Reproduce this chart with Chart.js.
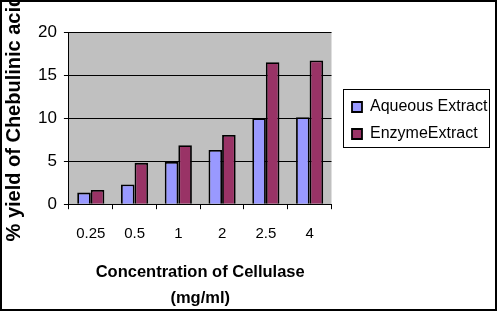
<!DOCTYPE html>
<html>
<head>
<meta charset="utf-8">
<script src="https://cdn.jsdelivr.net/npm/chart.js@4"></script>
<style>
  html, body { margin: 0; padding: 0; background: #fff; }
  #wrap { width: 500px; height: 316px; }
</style>
</head>
<body>
<div id="wrap"><canvas id="chart" width="500" height="316"></canvas></div>
<script>
const concentrations = ["0.25", "0.5", "1", "2", "2.5", "4"];
const aqueousYield = [1.35, 2.3, 4.9, 6.3, 10.0, 10.1];
const enzymeYield = [1.65, 4.8, 6.85, 8.05, 16.5, 16.7];
const seriesNames = ["Aqueous Extract", "EnzymeExtract"];

const FONT = "'Liberation Sans', Arial, sans-serif";

// gray plot background, outer frame and the boxed legend
const frame = {
  id: "frame",
  beforeDraw(chart) {
    const { ctx, chartArea: a } = chart;
    ctx.save();
    ctx.fillStyle = "#c0c0c0";
    ctx.fillRect(a.left, a.top, a.right - a.left, a.bottom - a.top);
    ctx.restore();
  },
  afterLayout(chart) {
    // move the legend next to the plot, like the original
    const lg = chart.legend;
    lg.left = 341;
    lg.right = 494;
    lg.width = 153;
    lg.top = 88;
  },
  afterDraw(chart) {
    const ctx = chart.ctx;
    ctx.save();
    ctx.strokeStyle = "#000";
    ctx.lineWidth = 1;
    ctx.strokeRect(343.5, 89.5, 146, 58);
    ctx.lineWidth = 2;
    ctx.strokeRect(1, 1, 495, 309);
    ctx.restore();
  }
};

new Chart(document.getElementById("chart"), {
  type: "bar",
  data: {
    labels: concentrations,
    datasets: [
      {
        label: seriesNames[0],
        data: aqueousYield,
        backgroundColor: "#9999ff",
        borderColor: "#000",
        borderWidth: 1.8
      },
      {
        label: seriesNames[1],
        data: enzymeYield,
        backgroundColor: "#993366",
        borderColor: "#000",
        borderWidth: 1.8
      }
    ]
  },
  options: {
    responsive: false,
    animation: false,
    categoryPercentage: 0.62,
    barPercentage: 1,
    layout: { padding: { top: 32, left: 0, right: 58, bottom: 4 } },
    plugins: {
      tooltip: { enabled: false },
      legend: {
        position: "right",
        align: "start",
        labels: {
          boxWidth: 10,
          boxHeight: 10,
          padding: 11,
          color: "#000",
          font: { family: FONT, size: 16 }
        }
      }
    },
    scales: {
      x: {
        grid: {
          offset: true,
          drawOnChartArea: false,
          drawTicks: true,
          tickLength: 5,
          color: "#000"
        },
        border: { color: "#000", width: 1 },
        ticks: { color: "#000", padding: 16, font: { family: FONT, size: 15 } },
        title: {
          display: true,
          text: ["Concentration of Cellulase", "(mg/ml)"],
          color: "#000",
          font: { family: FONT, size: 16.5, weight: "bold", lineHeight: 1.6 },
          padding: { top: 0, bottom: 0 }
        }
      },
      y: {
        min: 0,
        max: 20,
        ticks: { stepSize: 5, color: "#000", padding: 7, font: { family: FONT, size: 17 } },
        grid: { color: "#000", tickLength: 5, lineWidth: 1 },
        border: { color: "#000", width: 1 },
        title: {
          display: true,
          text: "% yield of Chebulinic acid",
          color: "#000",
          font: { family: FONT, size: 20, weight: "bold", lineHeight: 1.1 },
          padding: { top: 3, bottom: 6 }
        }
      }
    }
  },
  plugins: [frame]
});
</script>
</body>
</html>
